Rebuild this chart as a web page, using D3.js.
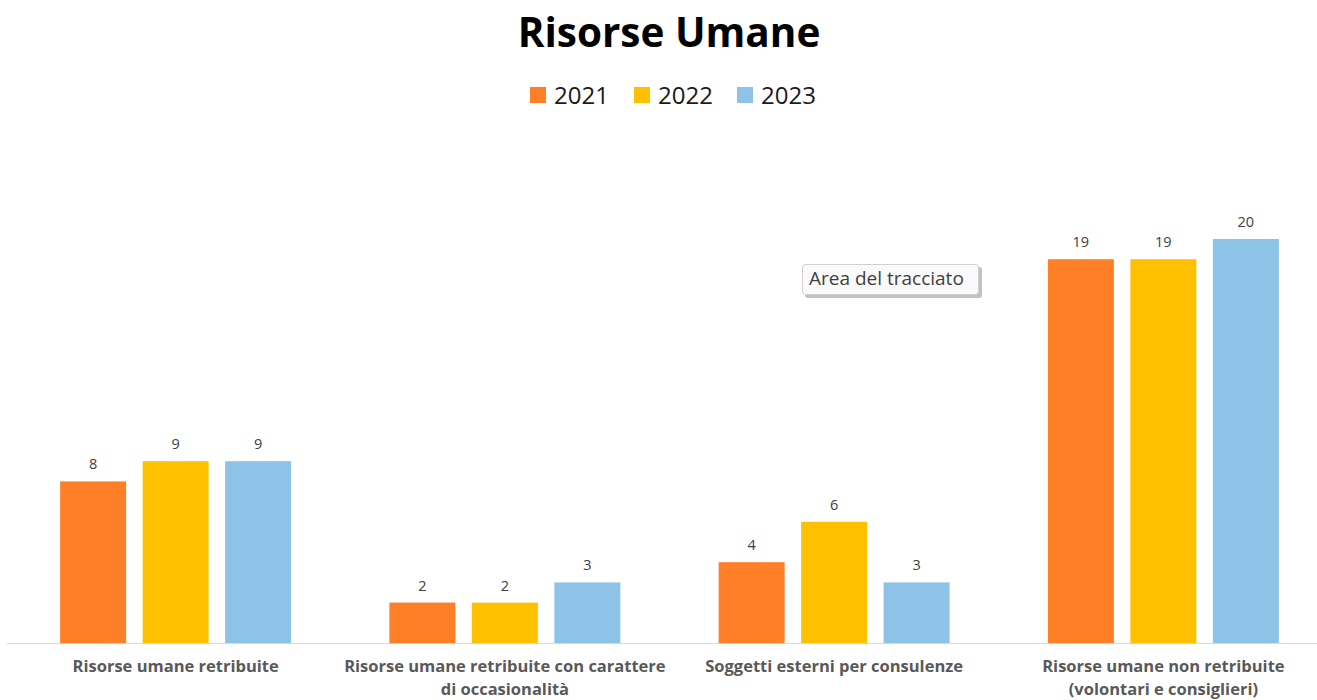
<!DOCTYPE html>
<html><head><meta charset="utf-8">
<script src="https://cdn.jsdelivr.net/npm/d3@7"></script>
<style>
html,body{margin:0;padding:0;background:#fff;overflow:hidden;}
svg{display:block;}
</style></head>
<body>
<svg id="chart" width="1317" height="700"></svg>
<script>
const categories = [
  ["Risorse umane retribuite"],
  ["Risorse umane retribuite con carattere", "di occasionalità"],
  ["Soggetti esterni per consulenze"],
  ["Risorse umane non retribuite", "(volontari e consiglieri)"]
];
const seriesNames = ["2021", "2022", "2023"];
const seriesColors = ["#FE7F28", "#FFC000", "#8DC3E6"];
const values2021 = [8, 2, 4, 19];
const values2022 = [9, 2, 6, 19];
const values2023 = [9, 3, 3, 20];
const seriesValues = [values2021, values2022, values2023];

const svg = d3.select("#chart");
const body = "'Open Sans','Noto Sans',sans-serif";

// Title
svg.append("text").attr("x", 669).attr("y", 47).attr("text-anchor", "middle")
  .attr("font-family", body).attr("font-weight", 700).attr("font-size", 40.5)
  .attr("fill", "#000").text("Risorse Umane");

// Legend
const legendX = [530, 634, 737];
seriesNames.forEach((n, i) => {
  const g = svg.append("g").attr("transform", `translate(${legendX[i]},87)`);
  g.append("rect").attr("width", 16).attr("height", 16).attr("fill", seriesColors[i]);
  g.append("text").attr("x", 24).attr("y", 16.5).attr("font-family", body)
    .attr("font-size", 24).attr("fill", "#1a1a1a").text(n);
});

const catIdx = categories.map((d, i) => i);
const x0 = d3.scaleBand().domain(catIdx).range([11, 1328]).paddingInner(0.2985).paddingOuter(0.14925);
const x1 = d3.scaleBand().domain(d3.range(seriesNames.length)).range([0, x0.bandwidth()]).paddingInner(0.2).paddingOuter(0);
const y = d3.scaleLinear().domain([0, 20]).range([643, 239]);

// Bars
const groups = svg.append("g").selectAll("g").data(catIdx).join("g")
  .attr("transform", d => `translate(${x0(d)},0)`);
groups.selectAll("rect").data(c => seriesValues.map((s, si) => ({si, v: s[c]}))).join("rect")
  .attr("x", d => x1(d.si)).attr("width", x1.bandwidth())
  .attr("y", d => y(d.v)).attr("height", d => y(0) - y(d.v))
  .attr("fill", d => seriesColors[d.si]);
groups.selectAll("text.lbl").data(c => seriesValues.map((s, si) => ({si, v: s[c]}))).join("text")
  .attr("class", "lbl")
  .attr("x", d => x1(d.si) + x1.bandwidth() / 2).attr("y", d => y(d.v) - 12)
  .attr("text-anchor", "middle").attr("font-family", body).attr("font-size", 14.5)
  .attr("fill", "#404040").text(d => d.v);

// Axis line
svg.append("line").attr("x1", 7).attr("x2", 1317).attr("y1", 643.5).attr("y2", 643.5)
  .attr("stroke", "#D9D9D9").attr("stroke-width", 1);

// Category labels
const xAxis = d3.axisBottom(x0).tickSize(0).tickFormat("");
const ax = svg.append("g").attr("transform", "translate(0,643)").call(xAxis);
ax.select(".domain").remove();
ax.selectAll(".tick").each(function(d) {
  const t = d3.select(this).append("text").attr("text-anchor", "middle")
    .attr("font-family", body).attr("font-weight", 700).attr("font-size", 16.5)
    .attr("fill", "#595959");
  categories[d].forEach((line, li) => {
    t.append("tspan").attr("x", 0).attr("y", 29 + li * 23).text(line);
  });
});

// Tooltip "Area del tracciato"
const tip = svg.append("g").attr("transform", "translate(802,264)");
tip.append("rect").attr("x", 3).attr("y", 3).attr("width", 177).attr("height", 31).attr("rx", 3)
  .attr("fill", "#9a9a9a").attr("opacity", 0.6);
tip.append("rect").attr("x", 0.5).attr("y", 0.5).attr("width", 176).attr("height", 30).attr("rx", 3)
  .attr("fill", "#FAFAFA").attr("stroke", "#D0D0D0");
tip.append("text").attr("x", 7).attr("y", 21).attr("font-family", body).attr("font-size", 19)
  .attr("fill", "#404040").text("Area del tracciato");
</script>
</body></html>
